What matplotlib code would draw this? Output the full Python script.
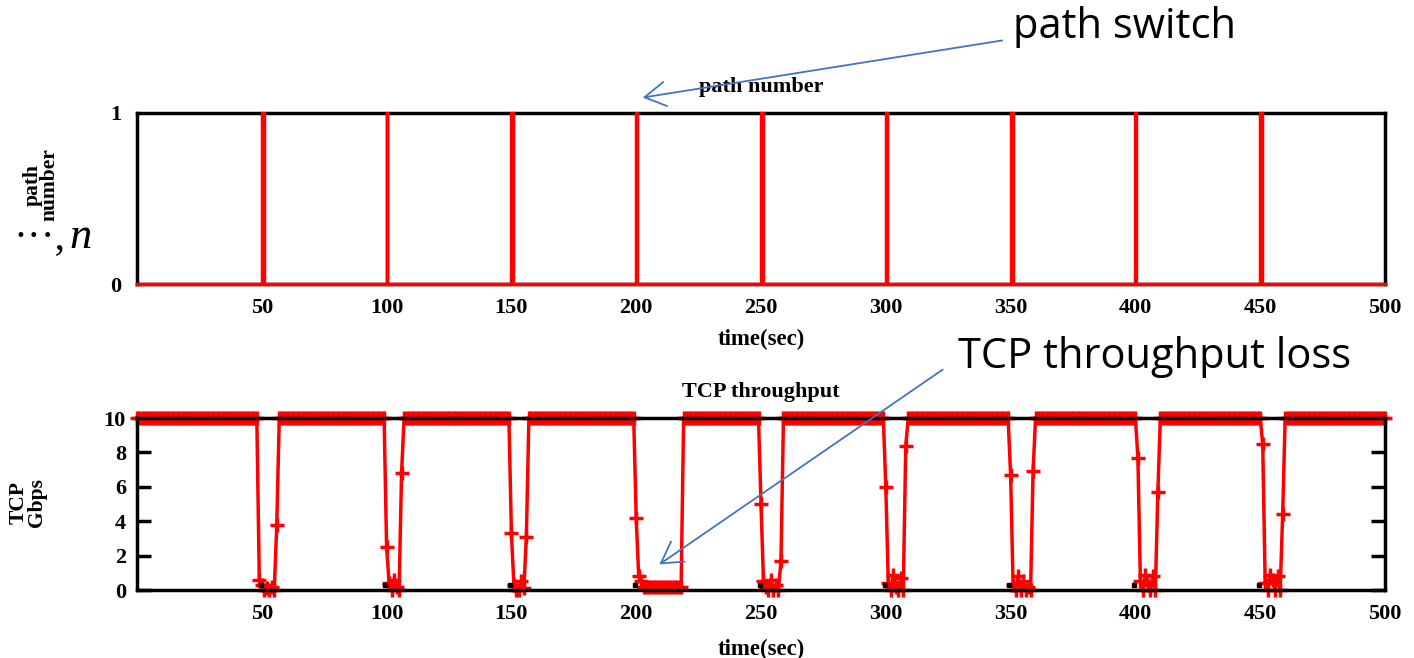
import numpy as np
import matplotlib
matplotlib.use("Agg")
import matplotlib.pyplot as plt
from matplotlib.patches import FancyArrowPatch

plt.rcParams["font.family"] = ["Liberation Serif", "DejaVu Serif"]
plt.rcParams["font.weight"] = "bold"
plt.rcParams["axes.titleweight"] = "bold"
plt.rcParams["axes.labelweight"] = "bold"

# ---- data ----
switch_times = [50, 100, 150, 200, 250, 300, 350, 400, 450]
switch_dwell = [0.8, 0.3, 0.8, 0.3, 0.8, 0.3, 0.8, 0.3, 0.8]   # seconds spent on path 1

steady_gbps = 10.0
dip_start = [49, 100, 150, 200, 250, 300, 350, 401, 451]
dip_values = [
    [0.6, 0.3, 0.0, 0.1, 0.0, 0.2, 0.0, 3.8],
    [2.5, 0.4, 0.0, 0.6, 0.2, 0.0, 6.8],
    [3.3, 0.3, 0.0, 0.0, 0.5, 0.1, 3.1],
    [4.2, 0.8, 0.5, 0.2, 0.2, 0.2, 0.2, 0.2, 0.2, 0.2, 0.2, 0.2, 0.2, 0.2, 0.2, 0.2, 0.2, 0.2, 0.2],
    [5.0, 0.5, 0.2, 0.0, 0.6, 0.0, 0.3, 0.0, 1.7],
    [6.0, 0.4, 0.0, 0.9, 0.2, 0.0, 0.7, 0.0, 8.4],
    [6.7, 0.3, 0.0, 0.8, 0.0, 0.5, 0.0, 0.2, 0.0, 6.9],
    [7.7, 0.5, 0.0, 0.9, 0.3, 0.0, 0.8, 0.0, 5.7],
    [8.5, 0.4, 0.0, 0.9, 0.6, 0.0, 0.8, 0.0, 4.4],
]
black_t = [49.5, 99.5, 149.5, 199.5, 249.5, 299.5, 349.5, 399.5, 449.5]
black_v = [0.3, 0.3, 0.3, 0.3, 0.3, 0.3, 0.3, 0.3, 0.3]

xticks = [50, 100, 150, 200, 250, 300, 350, 400, 450, 500]

# ---- assemble series ----
times = np.arange(0, 501)
tput = np.full(len(times), steady_gbps)
for s, vals in zip(dip_start, dip_values):
    tput[s:s + len(vals)] = vals

path_t, path_v = [0], [0]
for t, d in zip(switch_times, switch_dwell):
    path_t += [t, t, t + d, t + d]
    path_v += [0, 1, 1, 0]
path_t.append(500)
path_v.append(0)

W, H = 1414, 658
fig = plt.figure(figsize=(W / 100, H / 100), dpi=100)


def fx(px):
    return px / W


def fy(py):
    return 1 - py / H


ax1 = fig.add_axes([fx(137), fy(284), fx(1385) - fx(137), fy(113) - fy(284)])
ax2 = fig.add_axes([fx(137), fy(590), fx(1385) - fx(137), fy(418) - fy(590)])

ax1.plot(path_t, path_v, color="red", lw=2.5, clip_on=False, zorder=3)
ax1.set_xlim(0, 500)
ax1.set_ylim(0, 1)
ax1.set_yticks([0, 1])
ax1.set_xticks(xticks)
ax1.tick_params(axis="y", length=0, labelsize=16, pad=11)
ax1.tick_params(axis="x", length=0, labelsize=16, pad=10)
ax1.set_title("path number", fontsize=16, pad=15)
ax1.set_xlabel("time(sec)", fontsize=16.5)
ax1.xaxis.set_label_coords(0.5, -0.265)
ax1.set_ylabel("path\nnumber", fontsize=15.5, linespacing=0.8)
ax1.yaxis.set_label_coords(-0.062, 0.58)

ax2.plot(times, tput, color="red", lw=2.5, marker="+", ms=10, mew=2.5,
         clip_on=False, zorder=2)
ax2.plot(black_t, black_v, ls="none", marker="s", ms=3.5, color="black",
         clip_on=False, zorder=2.2)
ax2.set_xlim(0, 500)
ax2.set_ylim(0, 10)
ax2.set_yticks([0, 2, 4, 6, 8, 10])
ax2.set_xticks(xticks)
ax2.tick_params(axis="y", direction="in", length=10, width=2.5,
                right=True, labelsize=16, pad=8)
ax2.tick_params(axis="x", length=0, labelsize=16, pad=10)
ax2.set_title("TCP throughput", fontsize=16, pad=15)
ax2.set_xlabel("time(sec)", fontsize=16.5)
ax2.xaxis.set_label_coords(0.5, -0.285)
ax2.set_ylabel("TCP\nGbps", fontsize=15.5, linespacing=0.9)
ax2.yaxis.set_label_coords(-0.072, 0.506)

for ax in (ax1, ax2):
    for sp in ax.spines.values():
        sp.set_linewidth(2.5)
        sp.set_color("black")

# cropped "1, 2, ..., n" fragment at the left edge
fig.text(fx(66), fy(248), "\u00b7\u00b7\u00b7,", fontsize=30, weight="normal",
         family=["Liberation Serif", "DejaVu Serif"], ha="right", va="baseline")
fig.text(fx(92), fy(248), "n", fontsize=32, weight="normal", style="italic",
         family=["Liberation Serif", "DejaVu Serif"], ha="right", va="baseline")

# callouts
blue = "#4472C4"
callout_font = ["Open Sans", "DejaVu Sans"]
fig.text(fx(1013), fy(27), "path switch", fontsize=30, family=callout_font,
         weight="normal", ha="left", va="center")
fig.text(fx(958), fy(357), "TCP throughput loss", fontsize=30, family=callout_font,
         weight="normal", ha="left", va="center")
for (x0, y0), (x1, y1) in [((1005, 40), (640, 98)), ((945, 368), (657, 566))]:
    fig.add_artist(FancyArrowPatch((fx(x0), fy(y0)), (fx(x1), fy(y1)),
                                   transform=fig.transFigure,
                                   arrowstyle="->,head_length=0.6,head_width=0.35",
                                   mutation_scale=25, color=blue, lw=1.3))

fig.savefig("out.png", dpi=100)
